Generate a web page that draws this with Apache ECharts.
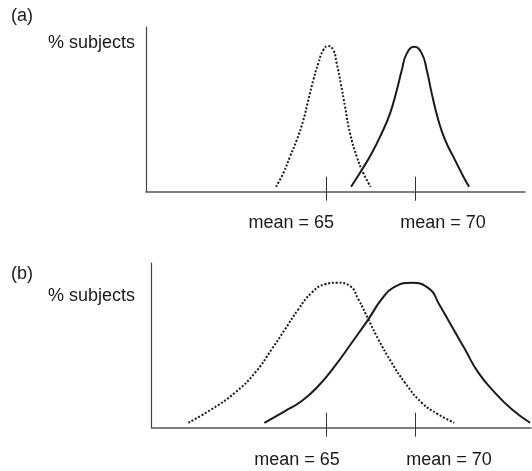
<!DOCTYPE html>
<html>
<head>
<meta charset="utf-8">
<script src="https://cdn.jsdelivr.net/npm/echarts@6/dist/echarts.min.js"></script>
<style>
  html, body { margin: 0; padding: 0; background: #fff; }
  #chart { width: 532px; height: 471px; }
</style>
</head>
<body>
<div id="chart"></div>
<script>
// Panel labels and axis text
const panelTitles = ['(a)', '(b)'];
const yAxisName = '% subjects';
const meanValues = [65, 70];
const meanLabels = ['mean = 65', 'mean = 70'];

// Panel (a): two narrow distributions, [score, % subjects]
const panelADotted = [
  [62.17, 3.0], [62.58, 11.2], [62.96, 21.3], [63.34, 31.4], [63.71, 43.5],
  [63.99, 55.7], [64.27, 67.8], [64.55, 78.0], [64.83, 86.0], [65.11, 88.5],
  [65.39, 86.0], [65.58, 78.0], [65.81, 65.8], [66.05, 51.6], [66.33, 35.5],
  [66.71, 21.3], [67.08, 11.2], [67.49, 3.0]
];
const panelASolid = [
  [66.39, 3.0], [66.99, 13.2], [67.55, 23.3], [68.11, 35.5], [68.58, 47.6],
  [68.96, 61.7], [69.24, 73.9], [69.52, 84.0], [69.94, 88.0], [70.36, 84.0],
  [70.64, 73.9], [70.92, 59.7], [71.29, 43.5], [71.67, 31.4], [72.23, 19.2],
  [72.70, 9.1], [73.02, 3.0]
];

// Panel (b): two wide distributions, [score, % subjects]
const panelBDotted = [
  [57.25, 3.0], [58.56, 11.2], [59.87, 21.3], [61.00, 33.4], [61.93, 47.6],
  [62.68, 59.7], [63.43, 71.9], [64.18, 82.0], [64.93, 87.1], [65.58, 88.0],
  [66.33, 86.0], [66.80, 78.0], [67.36, 65.8], [67.92, 53.7], [68.67, 39.5],
  [69.42, 27.3], [70.36, 15.2], [71.29, 8.1], [72.19, 3.0]
];
const panelBSolid = [
  [61.52, 3.0], [62.68, 10.1], [63.62, 16.2], [64.55, 25.3], [65.49, 37.5],
  [66.43, 51.6], [67.36, 65.8], [68.11, 78.0], [68.76, 85.0], [69.80, 88.0],
  [70.83, 84.0], [71.29, 75.9], [72.04, 61.7], [72.79, 47.6], [73.54, 33.4],
  [74.47, 21.3], [75.42, 11.2], [76.45, 3.0]
];

// Score range covered by each panel's horizontal axis
const panelARange = [54.87, 76.16];
const panelBRange = [55.19, 76.5];

const FONT = '"Liberation Sans", Arial, Helvetica, sans-serif';
const FS = 18;
const INK = '#1a1a1a';

// Each label is shifted sideways from its tick via rich-text padding
function meanFormatter(shifts) {
  return function (value) {
    const i = meanValues.indexOf(value);
    const s = shifts[i];
    return '{' + (s < 0 ? 'l' : 'r') + i + '|' + meanLabels[i] + '}';
  };
}
function meanRich(shifts) {
  const rich = {};
  shifts.forEach(function (s, i) {
    const pad = Math.abs(s) * 2;
    rich[(s < 0 ? 'l' : 'r') + i] = {
      fontFamily: FONT, fontSize: FS, color: INK,
      padding: s < 0 ? [0, pad, 0, 0] : [0, 0, 0, pad]
    };
  });
  return rich;
}

const grids = [
  { left: 146, top: 27, width: 379, height: 164.7 },
  { left: 151.7, top: 263, width: 379.3, height: 164.7 }
];
const ranges = [panelARange, panelBRange];
const labelShifts = [[-35, 27.7], [-29.3, 33.7]];
const labelMargins = [22, 23];
const nameGaps = [-16, -33];
const namePads = [11, 16.7];

const xAxes = [];
const yAxes = [];
grids.forEach(function (g, k) {
  // main axis: line, lower part of the tick marks and the labels
  xAxes.push({
    type: 'value', gridIndex: k, position: 'bottom',
    min: ranges[k][0], max: ranges[k][1],
    splitLine: { show: false },
    axisLine: { show: true, lineStyle: { color: '#555', width: 1.5 } },
    axisTick: { show: true, customValues: meanValues, length: 9, lineStyle: { color: '#333', width: 1 } },
    axisLabel: {
      show: true, customValues: meanValues, margin: labelMargins[k],
      formatter: meanFormatter(labelShifts[k]), rich: meanRich(labelShifts[k])
    }
  });
  // overlay axis: upper part of the tick marks
  xAxes.push({
    type: 'value', gridIndex: k, position: 'bottom',
    min: ranges[k][0], max: ranges[k][1],
    splitLine: { show: false },
    axisLine: { show: false },
    axisTick: { show: true, inside: true, customValues: meanValues, length: 15, lineStyle: { color: '#333', width: 1 } },
    axisLabel: { show: false }
  });
  yAxes.push({
    type: 'value', gridIndex: k, min: 0, max: 100,
    splitLine: { show: false },
    axisTick: { show: false },
    axisLabel: { show: false },
    axisLine: { show: true, lineStyle: { color: '#444', width: 1.2 } },
    name: yAxisName, nameLocation: 'end', nameGap: nameGaps[k],
    nameTextStyle: {
      fontFamily: FONT, fontSize: FS, color: INK,
      align: 'right', verticalAlign: 'middle', padding: [0, namePads[k], 0, 0]
    }
  });
});

function curve(data, k, dotted) {
  return {
    type: 'line', xAxisIndex: k * 2, yAxisIndex: k, data: data,
    smooth: 0.5, symbol: 'none', silent: true,
    lineStyle: dotted
      ? { color: INK, width: 2, type: [2, 1.8] }
      : { color: INK, width: 2 }
  };
}

const chart = echarts.init(document.getElementById('chart'), null, { renderer: 'canvas' });
chart.setOption({
  animation: false,
  backgroundColor: '#fff',
  title: [
    { text: panelTitles[0], left: 11, top: 7, padding: 0, textStyle: { fontFamily: FONT, fontSize: FS, fontWeight: 'normal', color: INK } },
    { text: panelTitles[1], left: 11, top: 265, padding: 0, textStyle: { fontFamily: FONT, fontSize: FS, fontWeight: 'normal', color: INK } }
  ],
  grid: grids,
  xAxis: xAxes,
  yAxis: yAxes,
  series: [
    curve(panelADotted, 0, true),
    curve(panelASolid, 0, false),
    curve(panelBDotted, 1, true),
    curve(panelBSolid, 1, false)
  ]
});
</script>
</body>
</html>
